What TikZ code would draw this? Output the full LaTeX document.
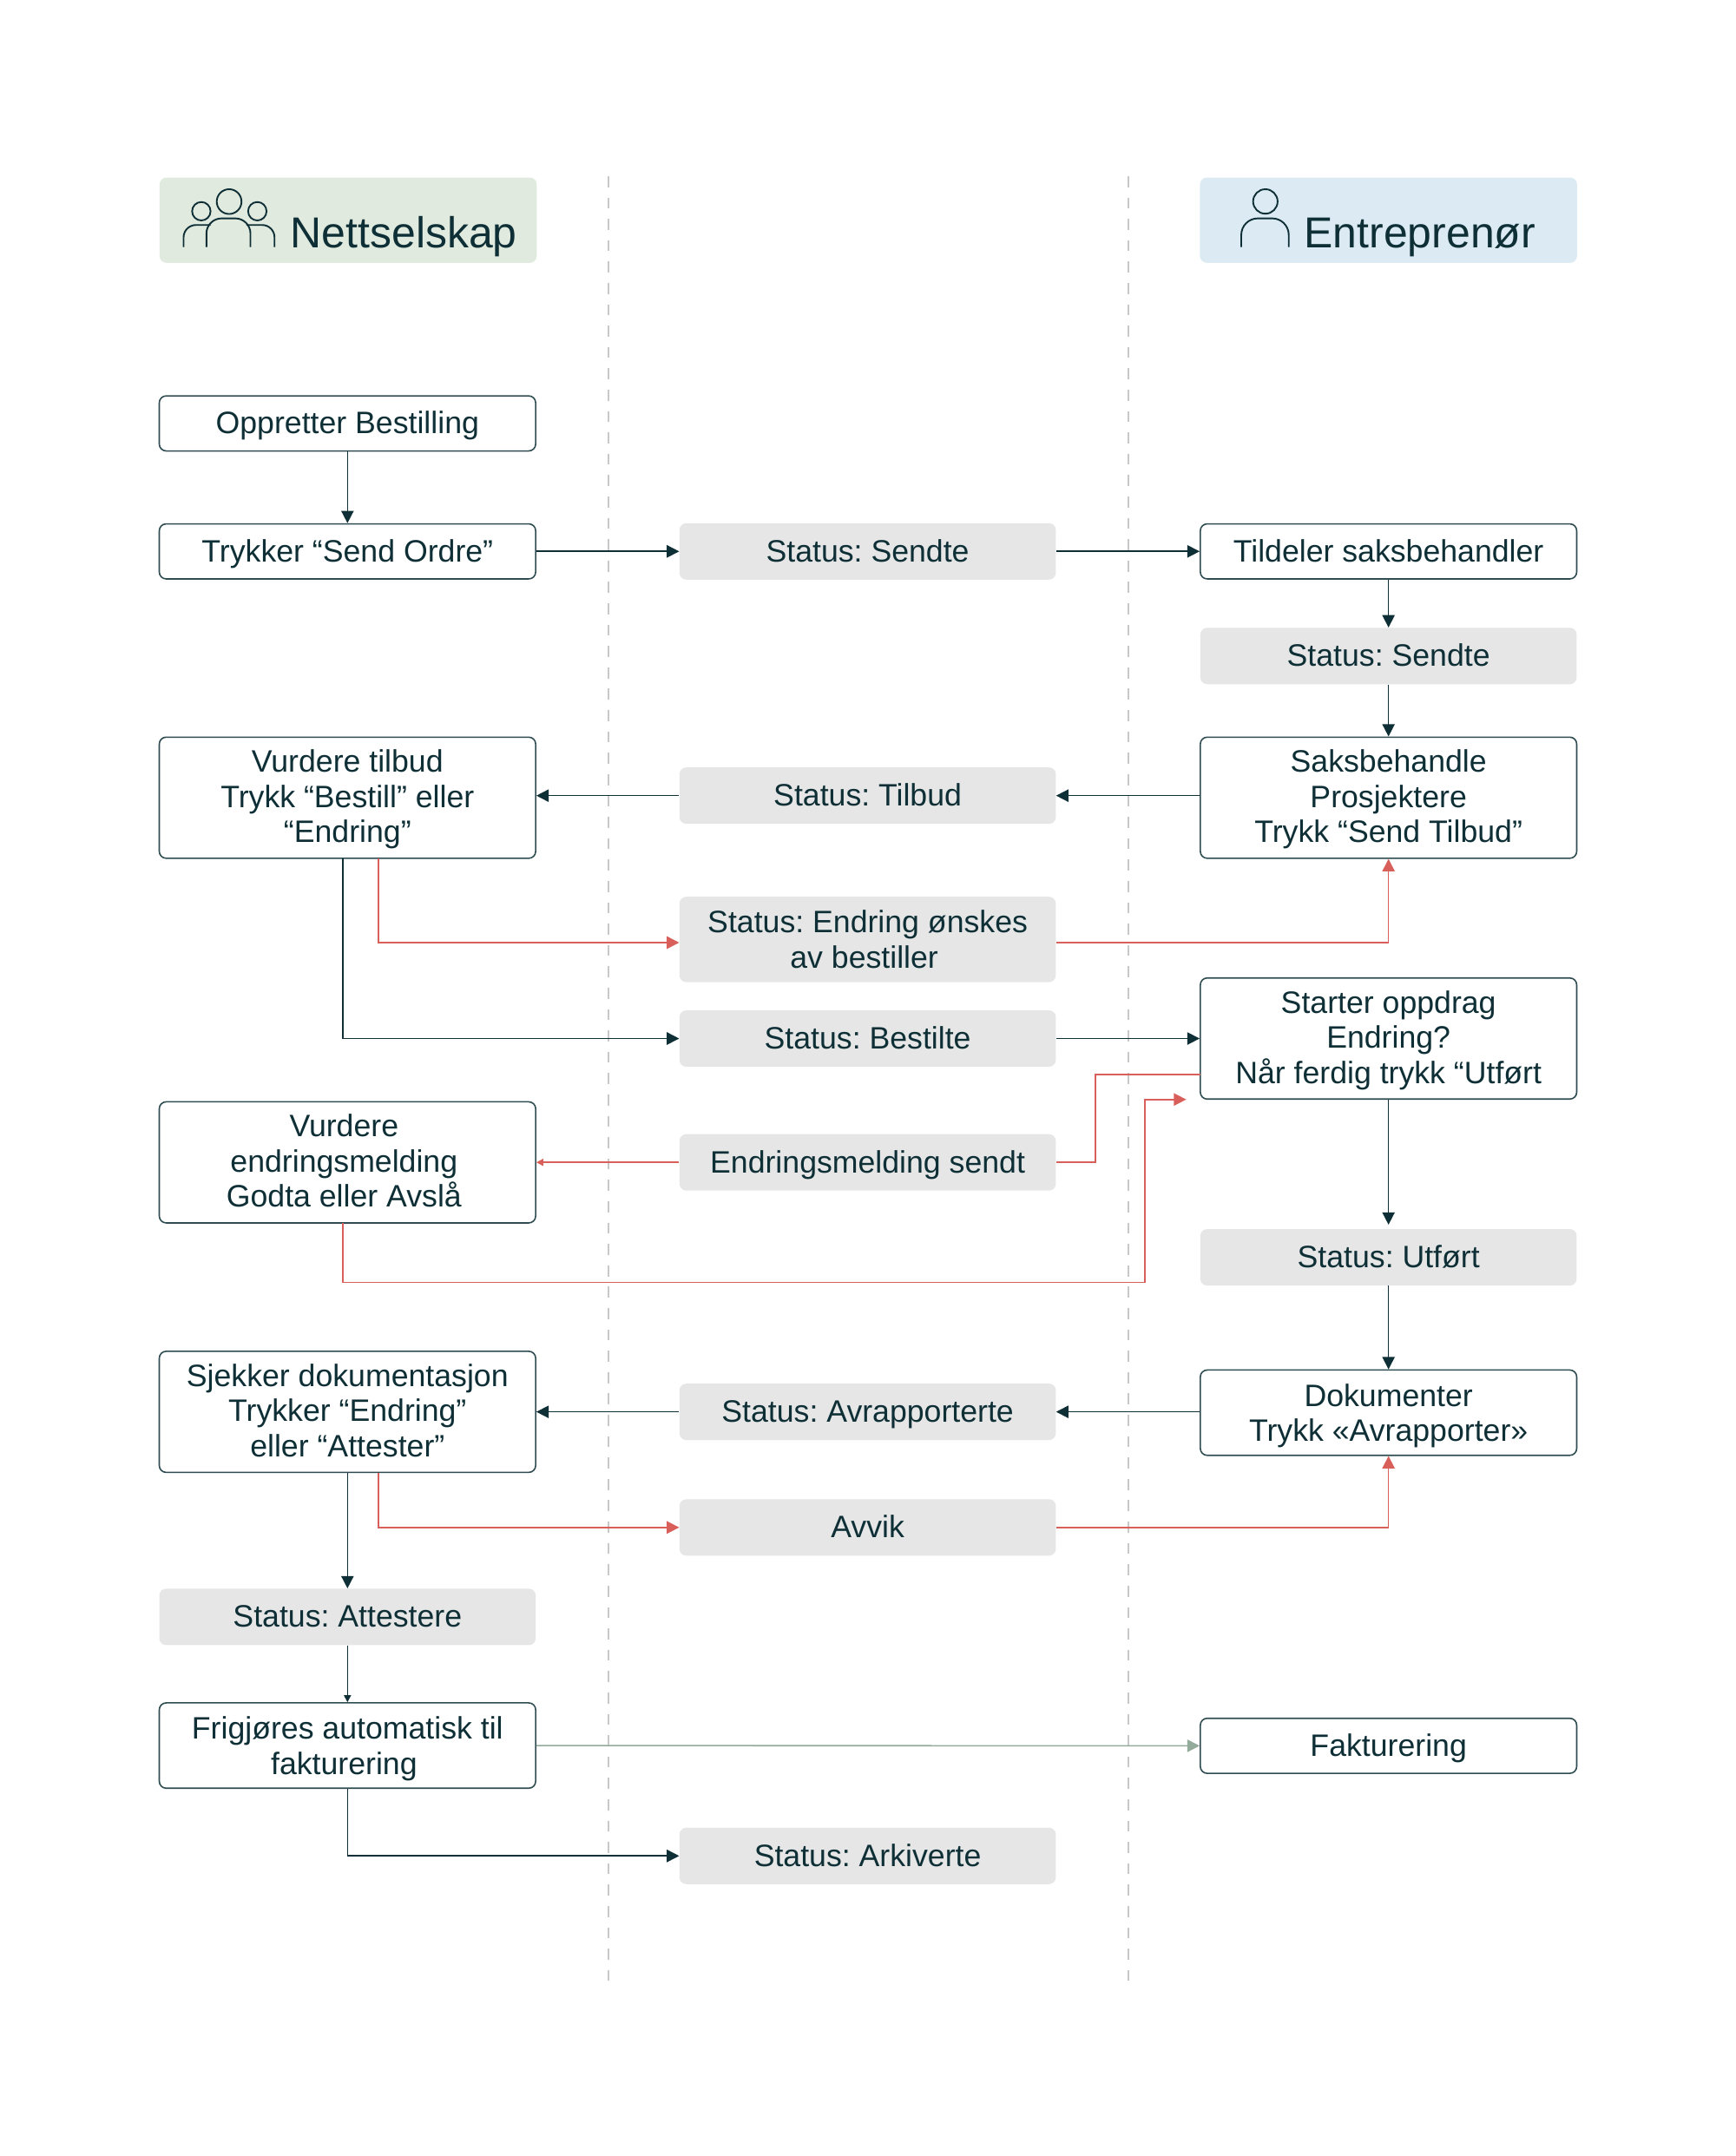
\documentclass[tikz,border=0pt]{standalone}
\usepackage{fontspec}
\setmainfont{Liberation Sans}
\usetikzlibrary{arrows.meta,calc}
\definecolor{ink}{HTML}{0F2F36}
\definecolor{edge}{HTML}{2F4C52}
\definecolor{redl}{HTML}{D9605A}
\definecolor{greenl}{HTML}{93AB9B}
\definecolor{graybox}{HTML}{E6E6E6}
\definecolor{hdgreen}{HTML}{E1EADF}
\definecolor{hdblue}{HTML}{DCEBF3}
\definecolor{dashc}{HTML}{C8C8C8}
\newcommand{\padr}[1]{\rule{#1}{0pt}}
\newcommand{\lnA}{\rule{0pt}{20pt}}
\newcommand{\lnB}{\rule{0pt}{22pt}}
\tikzset{
  x=1pt,y=-1pt,
  base/.style={rectangle,rounded corners=5pt,inner sep=0pt,minimum width=273.5pt,align=center,text=ink,font=\fontsize{22.5}{25.5}\selectfont\frenchspacing,
    execute at begin node={\rule{0pt}{21pt}},execute at end node={\rule[-6pt]{0pt}{6pt}}},
  actbox/.style={base,draw=edge,line width=1pt,fill=white},
  statbox/.style={base,fill=graybox},
  hd/.style={rectangle,rounded corners=5pt,inner sep=0pt,minimum width=274pt,minimum height=62pt},
  hdtext/.style={anchor=base west,inner sep=0pt,text=ink,font=\fontsize{31.5}{34}\selectfont},
  icon/.style={draw=ink,line width=1.2pt},
  flow/.style={draw=ink,line width=1pt,-{Triangle[length=9pt,width=9pt]}},
  flowsmall/.style={draw=ink,line width=1pt,-{Triangle[length=5pt,width=5pt]}},
  redflow/.style={draw=redl,line width=1pt,-{Triangle[length=9pt,width=9pt]}},
  redsmall/.style={draw=redl,line width=1pt,-{Triangle[length=5pt,width=5pt]}},
  redplain/.style={draw=redl,line width=1pt},
  greenflow/.style={draw=greenl,line width=1pt,-{Triangle[length=9pt,width=9pt]}},
  lane/.style={draw=dashc,line width=1pt,dash pattern=on 8pt off 7.52pt},
}
\begin{document}
\begin{tikzpicture}
\fill[white] (0,0) rectangle (1261.5,1566.8);
\useasboundingbox (0,0) rectangle (1261.5,1566.8);
% lanes
\draw[lane] (442,128) -- (442,1440);
\draw[lane] (820,128) -- (820,1440);
% headers
\node[hd,fill=hdgreen] (hl) at (253,160) {};
\node[hd,fill=hdblue] (hr) at (1009,160) {};
\node[hdtext] (tl) at (211,180) {Nettselskap};
\node[hdtext] (tr) at (947.5,180) {Entreprenør};
% people icon
\draw[icon] (166.5,146.5) circle (9);
\draw[icon] (146.3,153.5) circle (6.7);
\draw[icon] (187,153.5) circle (6.7);
\draw[icon,rounded corners=9pt] (133.4,179.5) -- (133.4,163.5) -- (153,163.5);
\draw[icon,rounded corners=11pt] (150,179.5) -- (150,158.7) -- (182,158.7) -- (182,179.5);
\draw[icon,rounded corners=9pt] (199.5,179.5) -- (199.5,163.5) -- (179,163.5);
% person icon
\draw[icon] (919.5,146.4) circle (8.9);
\draw[icon,rounded corners=12pt] (902,179.5) -- (902,158.7) -- (936.5,158.7) -- (936.5,179.5);
% left column
\node[actbox,minimum height=40pt] (opp) at (252.5,307.7) {Oppretter Bestilling};
\node[actbox,minimum height=40pt] (try) at (252.5,400.7) {Trykker “Send Ordre”};
\node[actbox,minimum height=88pt] (vur) at (252.5,579.7) {\lnA Vurdere tilbud\\Trykk “Bestill” eller\\“Endring”};
\node[actbox,minimum height=88pt] (ven) at (252.5,844.7) {\lnA Vurdere\padr{5pt}\\endringsmelding\padr{5pt}\\Godta eller Avslå\padr{5pt}};
\node[actbox,minimum height=88pt] (sje) at (252.5,1026) {\lnA Sjekker dokumentasjon\\Trykker “Endring”\\eller “Attester”};
\node[statbox,minimum height=41pt] (att) at (252.5,1175) {Status: Attestere};
\node[actbox,minimum height=62pt] (fri) at (252.5,1268.5) {\lnB Frigjøres automatisk til\\fakturering\padr{5pt}};
% middle column
\node[statbox,minimum height=41pt] (ms) at (630.5,400.7) {Status: Sendte};
\node[statbox,minimum height=41pt] (mt) at (630.5,578.2) {Status: Tilbud};
\node[statbox,minimum height=62pt] (me) at (630.5,682.7) {\lnB Status: Endring ønskes\\av bestiller\padr{5pt}};
\node[statbox,minimum height=41pt] (mb) at (630.5,754.7) {Status: Bestilte};
\node[statbox,minimum height=41pt] (mm) at (630.5,844.7) {Endringsmelding sendt};
\node[statbox,minimum height=41pt] (ma) at (630.5,1026) {Status: Avrapporterte};
\node[statbox,minimum height=41pt] (mv) at (630.5,1110) {Avvik};
\node[statbox,minimum height=41pt] (mr) at (630.5,1348.7) {Status: Arkiverte};
% right column
\node[actbox,minimum height=40pt] (til) at (1009,400.7) {Tildeler saksbehandler};
\node[statbox,minimum height=41pt] (rs) at (1009,476.7) {Status: Sendte};
\node[actbox,minimum height=88pt] (sak) at (1009,579.7) {\lnA Saksbehandle\\Prosjektere\\Trykk “Send Tilbud”};
\node[actbox,minimum height=88pt] (sta) at (1009,754.7) {\lnA Starter oppdrag\\Endring?\\Når ferdig trykk “Utført};
\node[statbox,minimum height=41pt] (ru) at (1009,913.7) {Status: Utført};
\node[actbox,minimum height=62pt] (dok) at (1009,1026.6) {\lnB Dokumenter\\Trykk «Avrapporter»};
\node[actbox,minimum height=40pt] (fak) at (1009,1268.7) {Fakturering};
% helper points
\coordinate (vurA) at (275,624);
\coordinate (vurB) at (249,624);
\coordinate (staL) at (872.2,781);
\coordinate (mmK) at (796,844.7);
\coordinate (venB) at (249,889);
\coordinate (retY) at (832,932);
\coordinate (retT) at (862,799);
\coordinate (sjeA) at (275,1070.5);
\coordinate (redrow) at (0,685);
% dark connectors
\draw[flow] (opp) -- (try);
\draw[flow] (try) -- (ms);
\draw[flow] (ms) -- (til);
\draw[flow] (til) -- (rs);
\draw[flow] (rs) -- (sak);
\draw[flow] (sak.west |- mt.east) -- (mt.east);
\draw[flow] (mt.west) -- (vur.east |- mt.west);
\draw[flow] (vurB) |- (mb.west);
\draw[flow] (mb) -- (sta);
\draw[flow] (sta) -- ($(ru.north)+(0,-3)$);
\draw[flow] (ru) -- (dok);
\draw[flow] (dok.west |- ma.east) -- (ma.east);
\draw[flow] (ma.west) -- (sje.east |- ma.west);
\draw[flow] (sje.south) -- (att.north);
\draw[flowsmall] (att) -- (fri);
\draw[flow] (fri.south) |- (mr.west);
% red connectors
\draw[redflow] (vurA) |- (me.west |- redrow);
\draw[redflow] (me.east |- redrow) -| (sak.south);
\draw[redplain] (staL) -| (mmK) -- (mm.east);
\draw[redsmall] (mm.west) -- (ven.east);
\draw[redflow] (venB) |- (retY) |- (retT);
\draw[redflow] (sjeA) |- (mv.west);
\draw[redflow] (mv.east) -| (dok.south);
% green connector
\draw[greenflow] (fri.east) -- (fak.west);
\end{tikzpicture}
\end{document}
